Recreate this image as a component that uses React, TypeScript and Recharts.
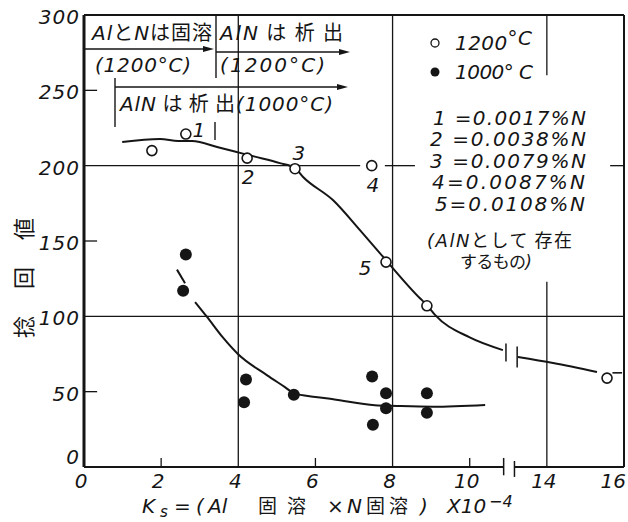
import React from "react";
import { ComposedChart, Line, Scatter, XAxis, YAxis, ReferenceLine } from "recharts";

const INK = "#151515";
const NUM_FONT = "'DejaVu Sans', sans-serif";
const JP_FONT = "'Noto Sans CJK JP', sans-serif";

// the Ks axis is broken between 11 and 13; everything past the break moves left by 2
const BREAK_GAP = 2;
const toAxis = (ks: number) => (ks > 12 ? ks - BREAK_GAP : ks);

const xTickValues = [0, 2, 4, 6, 8, 10, 14, 16];
const xTickLabels = ["0", "2", "4", "6", "8", "10", "14", "16"];
const yTickValues = [0, 50, 100, 150, 200, 250, 300];

// 1200°C (open circles)
const ks1200 = [1.76, 2.64, 4.23, 5.47, 7.46, 7.83, 8.89, 15.56];
const tw1200 = [210, 221, 205, 198, 200, 136, 107, 59];
const no1200 = ["", "1", "2", "3", "4", "5", "", ""];

// 1000°C (filled circles)
const ks1000 = [2.64, 2.57, 4.2, 4.15, 5.44, 7.47, 7.83, 7.83, 7.49, 8.89, 8.89];
const tw1000 = [141, 117, 58, 43, 48, 60, 49, 39, 28, 49, 36];

// hand-drawn trend curves
const fit1200Ks = [0.99, 1.97, 2.44, 2.8, 3.5, 4.12, 4.43, 5.08, 5.47, 5.68, 6.46, 7.16, 7.67, 8.71, 8.89, 9.1, 10.0, 10.86];
const fit1200Tw = [215.7, 217.7, 216.4, 216.3, 212, 208, 206, 201.7, 198.4, 192.5, 177, 157, 142, 112, 107.5, 101, 86, 77.6];
const fit1200bKs = [13.25, 14.16, 15.3];
const fit1200bTw = [73, 69, 63];
const fit1200cKs = [15.7, 15.95];
const fit1200cTw = [62.5, 62.5];
const fit1000aKs = [2.41, 2.62];
const fit1000aTw = [131, 122];
const fit1000Ks = [2.88, 3.19, 3.6, 3.99, 4.74, 5.21, 5.44, 6.0, 6.46, 7.54, 8.11, 9.05, 10.4];
const fit1000Tw = [109.5, 99.6, 86, 75, 61, 53, 49, 46.5, 45, 41, 40.5, 40, 41.2];

const pts = (xs: number[], ys: number[]) => xs.map((k, i) => ({ x: toAxis(k), y: ys[i] }));

const open1200 = ks1200.map((k, i) => ({ x: toAxis(k), y: tw1200[i], no: no1200[i] }));
const filled1000 = pts(ks1000, tw1000);

// where the sample number sits relative to its circle
const labelOffset: Record<string, [number, number]> = {
  "1": [13, -4],
  "2": [1, 19],
  "3": [4, -16],
  "4": [1, 19],
  "5": [-21, 6],
};

const seg = (x1: number, y1: number, x2: number, y2: number, w = 1.3, key?: string) => (
  <ReferenceLine
    key={key ?? `${x1}-${y1}-${x2}-${y2}`}
    segment={[{ x: x1, y: y1 }, { x: x2, y: y2 }]}
    stroke={INK}
    strokeWidth={w}
    ifOverflow="visible"
  />
);

const OpenDot = (p: any) => {
  const off = labelOffset[p.payload?.no];
  return (
    <g>
      <circle cx={p.cx} cy={p.cy} r={5} fill="#fff" stroke={INK} strokeWidth={1.6} />
      {off && (
        <text
          x={p.cx + off[0]}
          y={p.cy + off[1]}
          fontSize={20}
          fontStyle="italic"
          fontFamily={NUM_FONT}
          fill={INK}
          textAnchor="middle"
          dominantBaseline="central"
        >
          {p.payload.no}
        </text>
      )}
    </g>
  );
};

const FilledDot = (p: any) => <circle cx={p.cx} cy={p.cy} r={6} fill={INK} />;

const YTick = (p: any) => (
  <text
    x={80}
    y={p.y + (p.payload.value === 0 ? -10 : 2)}
    fontSize={20}
    fontStyle="italic"
    fontFamily={NUM_FONT}
    letterSpacing={1}
    fill={INK}
    textAnchor="end"
    dominantBaseline="central"
  >
    {p.payload.value}
  </text>
);

const xAxisTicks = xTickValues.map(toAxis);
const XTick = (p: any) => {
  const i = xAxisTicks.indexOf(p.payload.value);
  const last = i === xAxisTicks.length - 1;
  return (
    <text
      x={last ? 626 : p.x - 3}
      y={481}
      fontSize={20}
      fontStyle="italic"
      fontFamily={NUM_FONT}
      fill={INK}
      textAnchor={last ? "end" : "middle"}
      dominantBaseline="central"
    >
      {xTickLabels[i]}
    </text>
  );
};

const jp = { fontFamily: JP_FONT, fontStyle: "normal" } as const;

const Note = ({ x, y, w, size = 20, children }: any) => (
  <text
    x={x}
    y={y}
    fontSize={size}
    fontStyle="italic"
    fontFamily={NUM_FONT}
    fill={INK}
    textLength={w}
    lengthAdjust="spacing"
  >
    {children}
  </text>
);

const Arrow = ({ x1, x2, y }: { x1: number; x2: number; y: number }) => (
  <g>
    <line x1={x1} y1={y} x2={x2 - 6} y2={y} stroke={INK} strokeWidth={1.5} />
    <polygon points={`${x2},${y} ${x2 - 11},${y - 3} ${x2 - 11},${y + 3}`} fill={INK} />
  </g>
);

// texts, legend and the precipitation ranges drawn over the plot
const Overlay = () => (
  <svg width={628} height={522} style={{ position: "absolute", left: 0, top: 0, pointerEvents: "none" }}>
    {/* ranges across the top */}
    <Note x={92} y={40} w={120}>
      Al<tspan {...jp}>と</tspan>N<tspan {...jp}>は固溶</tspan>
    </Note>
    <Arrow x1={84} x2={214} y={49} />
    <line x1={216} y1={15} x2={216} y2={78} stroke={INK} strokeWidth={1.4} />
    <Note x={95} y={72} w={96}>(1200°C)</Note>
    <Note x={220} y={40} w={123}>
      AlN<tspan {...jp}> は 析 出</tspan>
    </Note>
    <Arrow x1={216} x2={350} y={52} />
    <Note x={220} y={72} w={105}>(1200°C)</Note>
    <line x1={115} y1={78} x2={115} y2={127} stroke={INK} strokeWidth={1.4} />
    <Arrow x1={115} x2={348} y={87} />
    <Note x={120} y={111} w={213}>
      AlN<tspan {...jp}> は 析 出</tspan>(1000°C)
    </Note>
    <line x1={215} y1={122} x2={215} y2={140} stroke={INK} strokeWidth={1.4} />

    {/* legend */}
    <circle cx={435} cy={43} r={4} fill="#fff" stroke={INK} strokeWidth={1.3} />
    <Note x={455} y={50} w={77}>
      1200<tspan dy={-5}>°C</tspan>
    </Note>
    <circle cx={435} cy={72} r={4.5} fill={INK} />
    <Note x={455} y={79} w={78}>1000° C</Note>

    <Note x={433} y={125} w={153}>1 =0.0017%N</Note>
    <Note x={430} y={146} w={156}>2 =0.0038%N</Note>
    <Note x={430} y={168} w={156}>3 =0.0079%N</Note>
    <Note x={432} y={189} w={153}>4=0.0087%N</Note>
    <Note x={435} y={211} w={150}>5=0.0108%N</Note>
    <Note x={427} y={247} w={145} size={18}>
      (AlN<tspan {...jp}>として 存在</tspan>
    </Note>
    <Note x={460} y={268} w={72} size={17}>
      <tspan {...jp}>するもの</tspan>)
    </Note>

    {/* axis titles */}
    <text
      transform="translate(22,338) rotate(-90)"
      fontSize={22}
      fontFamily={JP_FONT}
      fill={INK}
      textLength={120}
      lengthAdjust="spacing"
      dominantBaseline="central"
    >
      捻回値
    </text>
    <text y={513} fontSize={20} fontStyle="italic" fontFamily={NUM_FONT} fill={INK}>
      <tspan x={142}>K</tspan>
      <tspan x={160} dy={4} fontSize={15}>s</tspan>
      <tspan x={174} dy={-4}>=</tspan>
      <tspan x={196}>(</tspan>
      <tspan x={208}>Al</tspan>
      <tspan x={258} {...jp} fontSize={19}>固</tspan>
      <tspan x={287} {...jp} fontSize={19}>溶</tspan>
      <tspan x={327} fontStyle="normal">×</tspan>
      <tspan x={347}>N</tspan>
      <tspan x={366} {...jp} fontSize={19} letterSpacing={4}>固溶</tspan>
      <tspan x={420}>)</tspan>
      <tspan x={447}>X10</tspan>
      <tspan x={489} dy={-6} fontSize={16}>−4</tspan>
    </text>
  </svg>
);

export default function App() {
  return (
    <div style={{ position: "absolute", left: 0, top: 0, width: 628, height: 522, background: "#fff" }}>
      <ComposedChart width={628} height={522} margin={{ top: 15, right: 4, left: 0, bottom: 0 }}>
        <XAxis
          type="number"
          dataKey="x"
          domain={[0, 14]}
          ticks={xAxisTicks}
          allowDataOverflow
          height={55}
          axisLine={false}
          tickLine={false}
          tick={<XTick />}
        />
        <YAxis
          type="number"
          dataKey="y"
          domain={[0, 300]}
          ticks={yTickValues}
          allowDataOverflow
          width={84}
          axisLine={false}
          tickLine={false}
          tick={<YTick />}
        />

        {/* frame, with the gap at the axis break */}
        {seg(0, 0, 0, 300, 3)}
        {seg(0, 300, 14, 300, 2)}
        {seg(14, 0, 14, 300, 2)}
        {seg(0, 0, 10.88, 0, 2)}
        {seg(11.16, 0, 14, 0, 2)}
        {seg(10.88, 6, 10.88, -5.5, 1.5)}
        {seg(11.16, 4, 11.16, -6.6, 1.5)}

        {/* short inner ticks */}
        {[50, 150, 250].map((v) => seg(0, v, 0.34, v, 1.3, `yt${v}`))}
        {[2, 6, 10].map((v) => seg(v, 0, v, 6, 1.3, `xt${v}`))}

        {/* grid lines */}
        {seg(0, 100, 14, 100, 1.4)}
        {seg(0, 200, 7.16, 200, 1.3)}
        {seg(7.8, 200, 8.58, 200, 1.3)}
        {seg(13.64, 200, 14, 200, 1.3)}
        {seg(4, 0, 4, 300, 1.3)}
        {seg(8, 0, 8, 300, 1.3)}
        {seg(toAxis(14), 260, toAxis(14), 300, 1.3)}
        {seg(toAxis(14), 0, toAxis(14), 123, 1.3)}

        {/* break marks on the 1200°C curve */}
        {seg(10.94, 82, 10.94, 70, 1.5)}
        {seg(11.23, 80, 11.23, 66, 1.5)}

        <Line data={pts(fit1200Ks, fit1200Tw)} dataKey="y" type="monotone" dot={false} stroke={INK} strokeWidth={2} isAnimationActive={false} />
        <Line data={pts(fit1200bKs, fit1200bTw)} dataKey="y" type="monotone" dot={false} stroke={INK} strokeWidth={2} isAnimationActive={false} />
        <Line data={pts(fit1200cKs, fit1200cTw)} dataKey="y" type="linear" dot={false} stroke={INK} strokeWidth={1.6} isAnimationActive={false} />
        <Line data={pts(fit1000aKs, fit1000aTw)} dataKey="y" type="linear" dot={false} stroke={INK} strokeWidth={2} isAnimationActive={false} />
        <Line data={pts(fit1000Ks, fit1000Tw)} dataKey="y" type="monotone" dot={false} stroke={INK} strokeWidth={2} isAnimationActive={false} />

        <Scatter data={open1200} dataKey="y" shape={<OpenDot />} isAnimationActive={false} />
        <Scatter data={filled1000} dataKey="y" shape={<FilledDot />} isAnimationActive={false} />
      </ComposedChart>
      <Overlay />
    </div>
  );
}
